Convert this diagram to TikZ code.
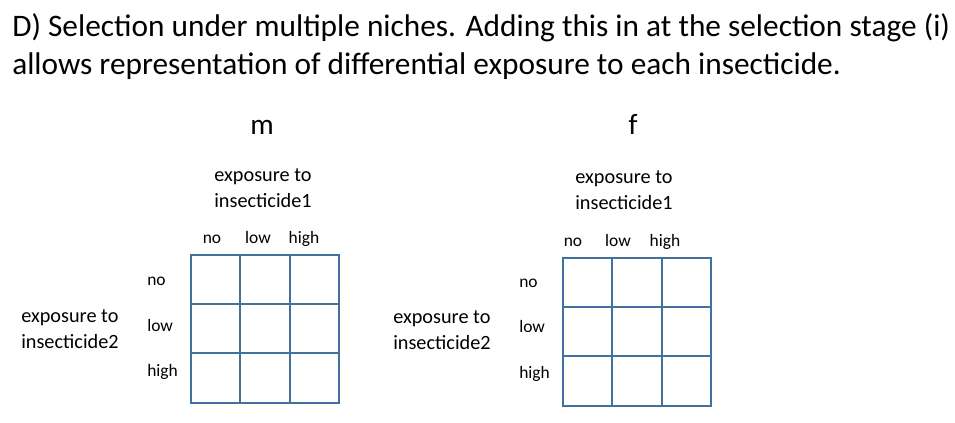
\documentclass[tikz,border=0pt]{standalone}
\usepackage{fontspec}
\setmainfont{Carlito}
\usepackage{xcolor}
\definecolor{gridblue}{RGB}{65,113,156}
\usetikzlibrary{positioning}

\tikzset{
  lbl/.style={inner sep=0pt,font=\fontsize{13.1}{15}\selectfont},
  axislbl/.style={inner sep=0pt,align=#1,font=\fontsize{15.2}{18.9}\selectfont},
  sexlbl/.style={inner sep=0pt,font=\fontsize{22}{26}\selectfont},
  gridline/.style={gridblue,line width=1.5pt,line cap=rect}
}

\begin{document}
\begin{tikzpicture}[x=0.75pt,y=-0.75pt]
  \def\cs{49.4}
  \useasboundingbox (0,0) rectangle (955,422);
  % heading (base = last line)
  \node[anchor=base west,inner sep=0pt,align=left,font=\fontsize{23.5}{28.5}\selectfont] (title) at (12,74)
    {D) Selection under multiple niches. Adding this in at the selection stage (i)\\
     allows representation of differential exposure to each insecticide.};
  % males
  \node[sexlbl,anchor=base] (m) at (262,134) {m};
  \node[axislbl=center,anchor=base] (mexpA) at (263,207) {exposure to\\insecticide1};
  \node[lbl,anchor=base] (mcno) at (212,243) {no};
  \node[lbl,anchor=base] (mclow) at (258,243) {low};
  \node[lbl,anchor=base] (mchigh) at (304,243) {high};
  \node[lbl,anchor=base west] (mrno) at (147,285) {no};
  \node[lbl,anchor=base west] (mrlow) at (147,331) {low};
  \node[lbl,anchor=base west] (mrhigh) at (147,376) {high};
  \node[axislbl=left,anchor=base west] (mexpB) at (21,348) {exposure to\\insecticide2};
  \foreach \i in {0,...,3} {
    \draw[gridline] (191+\i*\cs,254.5) -- (191+\i*\cs,254.5+3*\cs);
    \draw[gridline] (191,254.5+\i*\cs) -- (191+3*\cs,254.5+\i*\cs);
  }
  % females
  \node[sexlbl,anchor=base] (f) at (633,134) {f};
  \node[axislbl=center,anchor=base] (fexpA) at (624,209) {exposure to\\insecticide1};
  \node[lbl,anchor=base] (fcno) at (573,246) {no};
  \node[lbl,anchor=base] (fclow) at (618,246) {low};
  \node[lbl,anchor=base] (fchigh) at (665,246) {high};
  \node[lbl,anchor=base west] (frno) at (519,287) {no};
  \node[lbl,anchor=base west] (frlow) at (519,332) {low};
  \node[lbl,anchor=base west] (frhigh) at (519,378) {high};
  \node[axislbl=left,anchor=base west] (fexpB) at (393,349) {exposure to\\insecticide2};
  \foreach \i in {0,...,3} {
    \draw[gridline] (563+\i*\cs,257.5) -- (563+\i*\cs,257.5+3*\cs);
    \draw[gridline] (563,257.5+\i*\cs) -- (563+3*\cs,257.5+\i*\cs);
  }
\end{tikzpicture}
\end{document}
